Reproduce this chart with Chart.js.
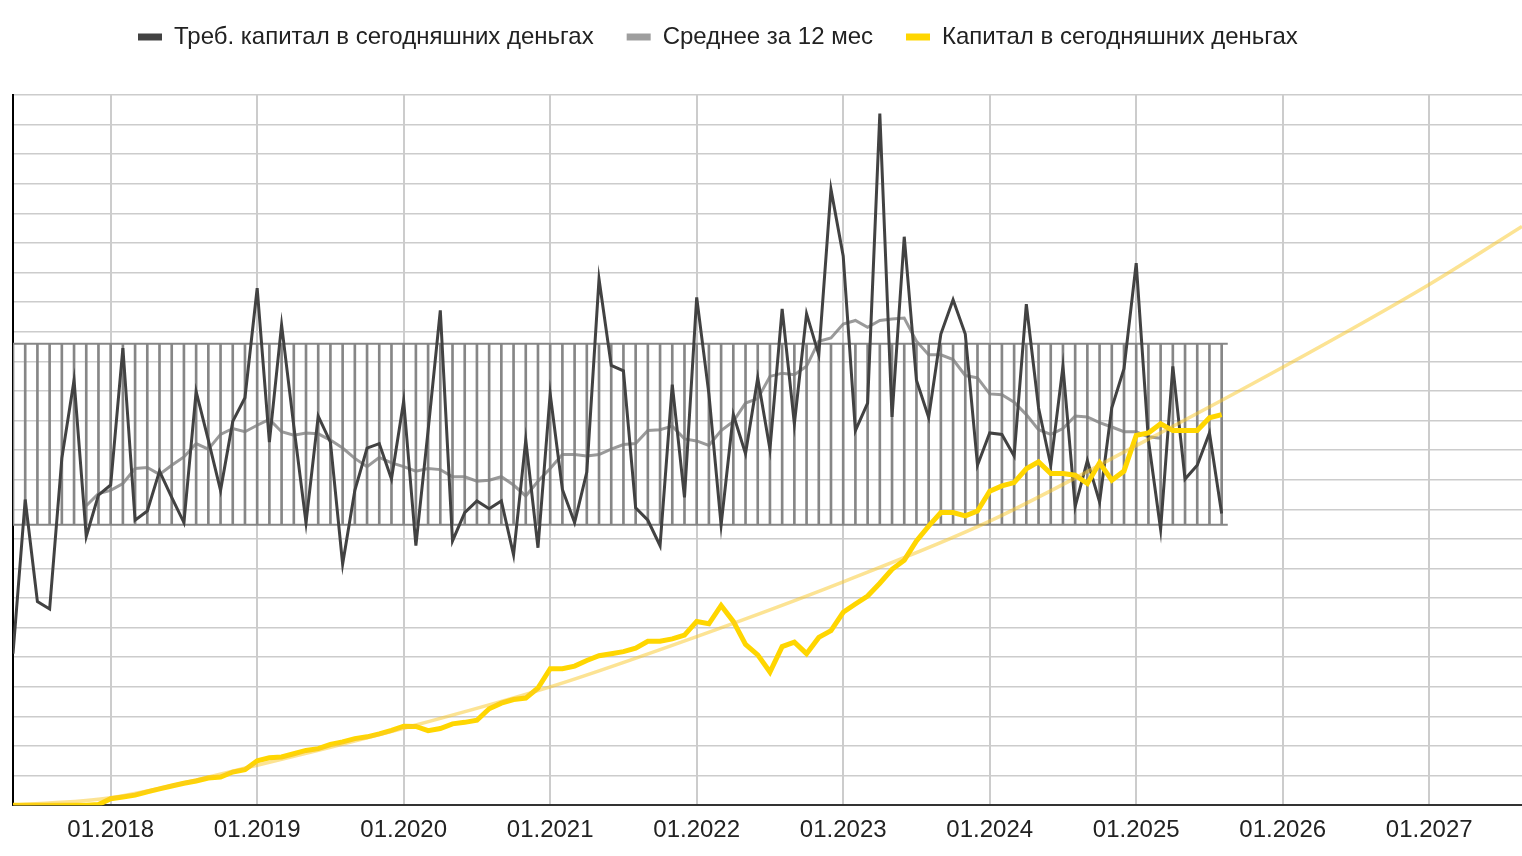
<!DOCTYPE html>
<html>
<head>
<meta charset="utf-8">
<script src="https://cdn.jsdelivr.net/npm/chart.js@4.4.1/dist/chart.umd.min.js"></script>
<style>
  html, body { margin: 0; padding: 0; background: #ffffff; }
  #wrap { width: 1522px; height: 856px; position: relative; }
</style>
</head>
<body>
<div id="wrap"><canvas id="c"></canvas></div>
<script>
// ---------- DATA ----------
const seriesNames = [
  'Треб. капитал в сегодняшних деньгах',
  'Среднее за 12 мес',
  'Капитал в сегодняшних деньгах'
];
// months counted from 01.2017 (0 = January 2017); first point = May 2017
const firstMonth = 4;

const required = [
  5.12, 10.33, 6.88, 6.63, 11.72, 14.36, 9.08, 10.48, 10.82, 15.45,
  9.63, 9.94, 11.29, 10.40, 9.55, 13.98, 12.34, 10.64, 12.97, 13.77,
  17.47, 12.27, 16.23, 12.81, 9.55, 13.15, 12.27, 8.15, 10.64, 12.07,
  12.22, 11.02, 13.66, 8.77, 12.66, 16.72, 8.93, 9.89, 10.28, 10.02,
  10.28, 8.46, 12.34, 8.70, 13.90, 10.67, 9.55, 11.26, 17.78, 14.86,
  14.68, 10.05, 9.63, 8.77, 14.21, 10.40, 17.16, 13.90, 9.47, 13.20,
  11.88, 14.44, 12.03, 16.77, 12.89, 16.61, 15.22, 20.81, 18.56, 12.66,
  13.59, 23.37, 13.12, 19.21, 14.36, 13.10, 15.92, 17.08, 15.92, 11.49,
  12.58, 12.53, 11.80, 16.93, 13.43, 11.49, 14.83, 10.09, 11.65, 10.25,
  13.43, 14.75, 18.32, 12.34, 9.32, 14.83, 11.02, 11.49, 12.58, 9.86
];

const average12 = [
  null, null, null, null, null, null, 10.12, 10.53, 10.64, 10.87,
  11.38, 11.41, 11.18, 11.49, 11.77, 12.22, 12.03, 12.53, 12.73, 12.62,
  12.84, 13.04, 12.62, 12.50, 12.58, 12.55, 12.34, 12.07, 11.72, 11.44,
  11.75, 11.57, 11.44, 11.29, 11.38, 11.34, 11.10, 11.10, 10.95, 10.98,
  11.10, 10.82, 10.45, 10.95, 11.38, 11.85, 11.85, 11.80, 11.85, 12.03,
  12.19, 12.22, 12.66, 12.69, 12.81, 12.38, 12.31, 12.16, 12.66, 12.97,
  13.59, 13.74, 14.49, 14.60, 14.55, 14.83, 15.68, 15.79, 16.26, 16.38,
  16.15, 16.38, 16.43, 16.46, 15.68, 15.22, 15.22, 15.06, 14.52, 14.44,
  13.90, 13.87, 13.62, 13.20, 12.69, 12.53, 12.73, 13.15, 13.12, 12.93,
  12.78, 12.62, 12.62, 12.45, 12.40, null, null, null, null, null
];

const capital = [
  0, 0, 0, 0, 0, 0, 0, 0.02, 0.22, 0.28,
  0.34, 0.45, 0.55, 0.65, 0.74, 0.82, 0.92, 0.95, 1.12, 1.20,
  1.50, 1.60, 1.63, 1.74, 1.85, 1.91, 2.05, 2.14, 2.25, 2.31,
  2.41, 2.53, 2.67, 2.66, 2.52, 2.59, 2.75, 2.80, 2.87, 3.26,
  3.45, 3.57, 3.62, 3.96, 4.61, 4.61, 4.70, 4.89, 5.05, 5.12,
  5.19, 5.31, 5.54, 5.54, 5.62, 5.75, 6.21, 6.13, 6.75, 6.21,
  5.43, 5.08, 4.50, 5.36, 5.51, 5.12, 5.67, 5.90, 6.52, 6.80,
  7.07, 7.50, 7.97, 8.28, 8.93, 9.43, 9.89, 9.89, 9.78, 9.94,
  10.61, 10.79, 10.90, 11.37, 11.60, 11.21, 11.21, 11.15, 10.87, 11.57,
  10.98, 11.29, 12.50, 12.58, 12.89, 12.66, 12.66, 12.66, 13.09, 13.20
];

// trend line of capital
const trendMonths = [4, 12, 24, 36, 48, 60, 72, 84, 96, 108, 120, 127.6];
const trendValues = [0, 0.25, 1.35, 2.6, 4.0, 5.7, 7.55, 9.6, 12.15, 14.8, 17.6, 19.56];

// range band
const bandLow = 9.48;
const bandHigh = 15.59;

// axis
const xMin = 4, xMax = 127.6;
const yMin = 0, yMax = 24;
const tickMonths = [12, 24, 36, 48, 60, 72, 84, 96, 108, 120];
const tickLabels = ['01.2018', '01.2019', '01.2020', '01.2021', '01.2022',
                    '01.2023', '01.2024', '01.2025', '01.2026', '01.2027'];

// ---------- BUILD ----------
const toPoints = arr => arr.map((v, i) => ({ x: firstMonth + i, y: v }));
const lastMonth = firstMonth + required.length - 1;

const FONT = "'Liberation Sans', Arial, Helvetica, sans-serif";

const legendPlacer = {
  id: 'legendPlacer',
  afterInit(chart) {
    const lg = chart.legend;
    const orig = lg.fit;
    lg.fit = function () { orig.call(this); this.height += 28; };
  },
  afterLayout(chart) {
    const lg = chart.legend;
    lg.left = 105;
    lg.top = -8;
  }
};

const ctx = document.getElementById('c').getContext('2d');
new Chart(ctx, {
  type: 'line',
  data: {
    datasets: [
      {
        label: seriesNames[0],
        data: toPoints(required),
        borderColor: '#424242',
        backgroundColor: '#424242',
        borderWidth: 3,
        pointRadius: 0,
        tension: 0,
        order: 1
      },
      {
        label: seriesNames[1],
        data: toPoints(average12),
        borderColor: 'rgba(125,125,125,0.78)',
        backgroundColor: '#9e9e9e',
        borderWidth: 3,
        pointRadius: 0,
        tension: 0,
        spanGaps: false,
        order: 2
      },
      {
        label: seriesNames[2],
        data: toPoints(capital),
        borderColor: '#ffd600',
        backgroundColor: '#ffd600',
        borderWidth: 5,
        pointRadius: 0,
        tension: 0,
        order: -1
      },
      {
        label: 'trend',
        data: trendMonths.map((m, i) => ({ x: m, y: trendValues[i] })),
        borderColor: 'rgba(250,200,40,0.5)',
        backgroundColor: 'rgba(250,200,40,0.5)',
        borderWidth: 3.5,
        pointRadius: 0,
        cubicInterpolationMode: 'monotone',
        order: -2
      },
      {
        type: 'bar',
        label: 'band',
        data: required.map((_, i) => ({ x: firstMonth + i, y: [bandLow, bandHigh] })),
        backgroundColor: '#868686',
        borderWidth: 0,
        barThickness: 2,
        order: 5
      },
      {
        label: 'bandTop',
        data: [{ x: firstMonth - 0.5, y: bandHigh }, { x: lastMonth + 0.5, y: bandHigh }],
        borderColor: '#868686',
        borderWidth: 2,
        pointRadius: 0,
        order: 4
      },
      {
        label: 'bandBottom',
        data: [{ x: firstMonth - 0.5, y: bandLow }, { x: lastMonth + 0.5, y: bandLow }],
        borderColor: '#868686',
        borderWidth: 2,
        pointRadius: 0,
        order: 4
      }
    ]
  },
  options: {
    responsive: true,
    maintainAspectRatio: false,
    animation: false,
    layout: { padding: { left: 13, right: 0, top: 0, bottom: 0 } },
    plugins: {
      tooltip: { enabled: false },
      legend: {
        display: true,
        position: 'top',
        align: 'start',
        labels: {
          color: '#222222',
          font: { family: FONT, size: 24 },
          boxWidth: 24,
          boxHeight: 7,
          padding: 33,
          generateLabels(chart) {
            const items = Chart.defaults.plugins.legend.labels.generateLabels(chart);
            return items
              .filter(it => it.datasetIndex < 3)
              .sort((a, b) => a.datasetIndex - b.datasetIndex)
              .map(it => Object.assign(it, { lineWidth: 0, strokeStyle: 'rgba(0,0,0,0)' }));
          }
        }
      }
    },
    scales: {
      x: {
        type: 'linear',
        min: xMin,
        max: xMax,
        offset: false,
        afterBuildTicks(scale) {
          scale.ticks = tickMonths.map(v => ({ value: v }));
        },
        ticks: {
          autoSkip: false,
          maxRotation: 0,
          padding: 11,
          color: '#222222',
          font: { family: FONT, size: 24 },
          callback(value) {
            const i = tickMonths.indexOf(value);
            return i >= 0 ? tickLabels[i] : '';
          }
        },
        grid: { color: '#cccccc', lineWidth: 2, drawTicks: false, offset: false },
        border: { display: true, color: '#333333', width: 2 }
      },
      y: {
        min: yMin,
        max: yMax,
        ticks: { display: false, stepSize: 1 },
        grid: { color: '#cccccc', lineWidth: 1.5, drawTicks: false, offset: false },
        border: { display: true, color: '#000000', width: 2 }
      }
    }
  },
  plugins: [legendPlacer]
});
</script>
</body>
</html>
